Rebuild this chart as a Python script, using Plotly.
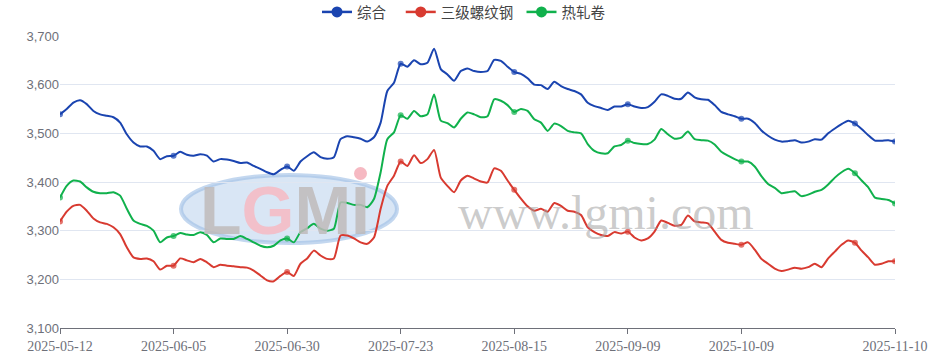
import datetime as dt
import plotly.graph_objects as go

# ---------------- data ----------------
start = dt.date(2025, 5, 12)
end = dt.date(2025, 11, 10)
holidays = {dt.date(2025, 6, 2)} | {dt.date(2025, 10, d) for d in range(1, 9)}
makeup_days = {dt.date(2025, 9, 28), dt.date(2025, 10, 11)}
dates = []
d = start
while d <= end:
    if (d.weekday() < 5 and d not in holidays) or d in makeup_days:
        dates.append(d.isoformat())
    d += dt.timedelta(days=1)

tick_labels = ["2025-05-12", "2025-06-05", "2025-06-30", "2025-07-23",
               "2025-08-15", "2025-09-09", "2025-10-09", "2025-11-10"]

composite = [3539, 3550, 3563, 3568, 3560, 3546, 3539, 3536, 3533, 3522,
             3498, 3481, 3473, 3473, 3464, 3447, 3453, 3454, 3462, 3456,
             3454, 3457, 3454, 3442, 3447, 3446, 3443, 3439, 3440, 3433,
             3427, 3420, 3416, 3425, 3432, 3423, 3442, 3453, 3461, 3451,
             3448, 3451, 3488, 3494, 3492, 3489, 3483, 3492, 3522, 3587,
             3604, 3643, 3637, 3650, 3642, 3645, 3674, 3632, 3621, 3608,
             3628, 3633, 3628, 3626, 3628, 3651, 3649, 3637, 3626, 3622,
             3613, 3600, 3599, 3591, 3606, 3597, 3591, 3587, 3580, 3563,
             3556, 3552, 3548, 3555, 3555, 3560, 3555, 3552, 3554, 3565,
             3580, 3577, 3571, 3571, 3584, 3574, 3570, 3569, 3558, 3544,
             3539, 3535, 3530, 3530, 3521, 3506, 3495, 3487, 3483, 3484,
             3486, 3481, 3483, 3488, 3487, 3500, 3510, 3519, 3526, 3520,
             3509, 3496, 3485, 3485, 3486, 3483]

rebar = [3319, 3339, 3351, 3353, 3341, 3325, 3317, 3314, 3307, 3293,
         3266, 3245, 3242, 3243, 3237, 3220, 3228, 3228, 3243, 3239,
         3235, 3242, 3235, 3225, 3230, 3228, 3227, 3225, 3224, 3218,
         3208, 3198, 3196, 3207, 3215, 3207, 3232, 3243, 3259, 3249,
         3242, 3243, 3290, 3290, 3284, 3276, 3273, 3286, 3345, 3392,
         3413, 3442, 3433, 3455, 3439, 3447, 3466, 3409, 3392, 3379,
         3403, 3413, 3407, 3401, 3399, 3428, 3423, 3403, 3384, 3366,
         3350, 3341, 3345, 3339, 3357, 3351, 3341, 3339, 3332, 3307,
         3297, 3291, 3289, 3297, 3294, 3298, 3286, 3280, 3284, 3298,
         3321, 3316, 3310, 3312, 3331, 3319, 3317, 3315, 3298, 3281,
         3275, 3273, 3271, 3276, 3261, 3242, 3232, 3222, 3217, 3220,
         3224, 3222, 3225, 3232, 3225, 3243, 3257, 3271, 3280, 3275,
         3259, 3245, 3230, 3232, 3237, 3237]

hot_rolled = [3368, 3392, 3403, 3401, 3389, 3380, 3377, 3377, 3379, 3372,
              3345, 3321, 3314, 3310, 3300, 3276, 3286, 3289, 3295, 3292,
              3291, 3297, 3291, 3276, 3284, 3283, 3283, 3289, 3283, 3276,
              3269, 3266, 3269, 3280, 3284, 3276, 3297, 3305, 3314, 3304,
              3300, 3304, 3358, 3357, 3353, 3353, 3348, 3365, 3420, 3488,
              3502, 3537, 3530, 3546, 3535, 3539, 3580, 3526, 3521, 3512,
              3530, 3543, 3539, 3533, 3535, 3570, 3567, 3558, 3544, 3550,
              3546, 3529, 3522, 3505, 3520, 3515, 3505, 3502, 3500, 3478,
              3464, 3459, 3459, 3473, 3476, 3485, 3480, 3478, 3478, 3487,
              3509, 3498, 3489, 3491, 3504, 3488, 3486, 3485, 3477, 3462,
              3454, 3447, 3442, 3442, 3432, 3412, 3396, 3388, 3377, 3379,
              3381, 3371, 3374, 3380, 3384, 3395, 3409, 3420, 3427, 3418,
              3403, 3389, 3368, 3365, 3363, 3356]

series_names = ["综合", "三级螺纹钢", "热轧卷"]
series_values = [composite, rebar, hot_rolled]
series_colors = ["#1a44b0", "#d83a30", "#10b14c"]

# ---------------- figure ----------------
W, H = 946, 362
ML, MR, MT, MB = 60, 51, 36, 34
PW, PH = W - ML - MR, H - MT - MB


def px(x):
    return (x - ML) / PW


def py(y):
    return (H - MB - y) / PH


marker_idx = set(range(0, len(dates), 17)) | {len(dates) - 1}
legend_pad = ["\u00a0\u00a0\u00a0", "\u00a0", ""]

fig = go.Figure()

# watermark logo (drawn beneath the lines)
fig.add_shape(type="circle", xref="paper", yref="paper",
              x0=px(181), x1=px(397), y0=py(243), y1=py(175),
              fillcolor="rgba(192,213,238,0.6)",
              line=dict(color="rgba(155,188,228,0.6)", width=4), layer="below")
fig.add_shape(type="circle", xref="paper", yref="paper",
              x0=px(354), x1=px(367), y0=py(180), y1=py(167),
              fillcolor="#f6b9c2", line=dict(width=0), layer="below")

for name, vals, col in zip(series_names, series_values, series_colors):
    sizes = [6 if i in marker_idx else 0 for i in range(len(vals))]
    fig.add_trace(go.Scatter(
        x=dates, y=vals, mode="lines+markers", name=name, showlegend=False,
        line=dict(color=col, width=2, shape="spline", smoothing=0.6),
        marker=dict(color=col, size=sizes, line=dict(width=0)),
        hoverinfo="skip"))
for name, col, pad in zip(series_names, series_colors, legend_pad):
    fig.add_trace(go.Scatter(
        x=[None], y=[None], mode="lines+markers", name=name + pad,
        line=dict(color=col, width=2.5),
        marker=dict(color=col, size=11)))

fig.add_annotation(xref="paper", yref="paper", x=px(285), y=py(210),
                   xanchor="center", yanchor="middle",
                   text="<b>L<span style='color:#f6b9c2'>G</span>MI</b>",
                   showarrow=False,
                   font=dict(family="Liberation Sans", size=68,
                             color="rgba(190,186,186,0.85)"))
fig.add_annotation(xref="paper", yref="paper", x=px(606), y=py(212),
                   xanchor="center", yanchor="middle",
                   text="www.lgmi.com", showarrow=False,
                   font=dict(family="Liberation Serif", size=48,
                             color="rgba(160,160,160,0.55)"))

fig.update_layout(
    width=W, height=H,
    margin=dict(l=ML, r=MR, t=MT, b=MB, autoexpand=False),
    paper_bgcolor="white", plot_bgcolor="white",
    font=dict(family="Liberation Sans", size=13, color="#6e7079"),
    legend=dict(orientation="h", x=px(464), xanchor="center",
                y=1 + 24 / PH, yanchor="middle",
                font=dict(family="Noto Sans CJK SC", size=14.5, color="#444"),
                itemwidth=30, bgcolor="rgba(0,0,0,0)"),
    xaxis=dict(type="category", categoryorder="array", categoryarray=dates,
               range=[0, len(dates) - 1],
               tickmode="array", tickvals=tick_labels, ticktext=tick_labels,
               ticks="outside", ticklen=5, tickcolor="#6e7079",
               showline=True, linecolor="#6e7079", linewidth=1,
               showgrid=False, zeroline=False,
               tickfont=dict(family="Liberation Sans Narrow", size=14,
                             color="#6e7079")),
    yaxis=dict(range=[3100, 3700], dtick=100, tickformat=",",
               showgrid=True, gridcolor="#e0e6f1", gridwidth=1,
               zeroline=False, showline=False, ticks="",
               tickfont=dict(family="Liberation Sans", size=13, color="#6e7079")),
)

fig.write_html("out.html", config={"displayModeBar": False},
               post_script="document.body.style.margin='0';"
                           "document.body.style.overflow='hidden';")
